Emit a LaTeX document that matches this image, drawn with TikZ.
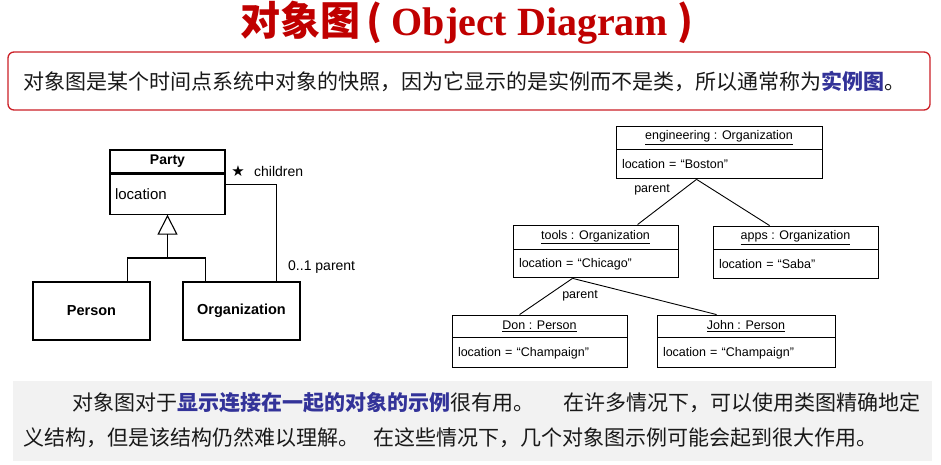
\documentclass[tikz,border=0pt]{standalone}
\usepackage{fontspec}
\usetikzlibrary{calc,arrows.meta}
\setmainfont{Liberation Sans}
\newfontfamily\cjk{Noto Sans CJK SC}
\newfontfamily\titleserif{Liberation Serif}
\newfontfamily\symfont{DejaVu Sans}
\definecolor{titlered}{RGB}{192,0,0}
\definecolor{framered}{RGB}{204,32,39}
\definecolor{keyblue}{RGB}{51,51,153}
\definecolor{panelgray}{RGB}{242,242,242}
\definecolor{inkgray}{RGB}{25,25,25}
\newcommand{\kw}[1]{{\bfseries\color{keyblue}#1}}
\begin{document}
\begin{tikzpicture}[x=1pt,y=-1pt,
  umlbox/.style={draw, line width=1.1pt, inner sep=0pt},
  umlline/.style={line width=1.1pt},
  objtitle/.style={draw, line width=0.9pt, inner sep=0pt, font=\fontsize{12.5}{14}\selectfont},
  objattr/.style={draw, line width=0.9pt, inner ysep=0pt, inner xsep=6pt, anchor=north, align=left,
                  font=\fontsize{12.5}{14}\selectfont},
  objline/.style={line width=0.9pt},
  cjktext/.style={font=\cjk\fontsize{21}{24}\selectfont, text=inkgray, inner sep=0pt, anchor=west},
  umllabel/.style={font=\fontsize{14}{16}\selectfont, inner sep=0pt, anchor=west},
  rolelabel/.style={font=\fontsize{12.5}{14}\selectfont, inner sep=0pt}
]
\useasboundingbox (0,0) rectangle (941,464);
\fill[white] (0,0) rectangle (941,464);

% heading
\node[text=titlered, inner sep=0pt] (title) at (467,23)
  {{\cjk\bfseries\fontsize{40}{44}\selectfont 对象图\hspace{6pt}(}\hspace{9pt}{\titleserif\bfseries\fontsize{40}{44}\selectfont Object Diagram}\hspace{9pt}{\cjk\bfseries\fontsize{40}{44}\selectfont )}};

% definition frame
\draw[framered, line width=1.3pt, rounded corners=6pt] (8,52) rectangle (930,110);
\node[cjktext] (def) at (23,81)
  {对象图是某个时间点系统中对象的快照，因为它显示的是实例而不是类，所以通常称为\kw{实例图}。};

% class diagram
\node[umlbox, minimum width=115pt, minimum height=23pt, font=\bfseries\fontsize{14}{16}\selectfont]
  (partyT) at (167.5,161.5) {Party};
\node[umlbox, minimum width=115pt, minimum height=40pt, anchor=north, text width=105pt, inner xsep=5pt,
  align=left, font=\fontsize{15}{17}\selectfont] (partyA) at (partyT.south) {location};
\node[umlbox, minimum width=117pt, minimum height=58pt, font=\bfseries\fontsize{14.5}{16}\selectfont]
  (person) at (91.5,311) {Person};
\node[umlbox, minimum width=117pt, minimum height=58pt, font=\bfseries\fontsize{14.5}{16}\selectfont]
  (org) at (241.5,311) {Organization};

\coordinate (gen) at (167.5,258);
\coordinate (pt) at ($(person.north west)+(95,0)$);
\coordinate (ot) at ($(org.north west)+(23,0)$);
\draw[umlline, -{Triangle[open, length=20pt, width=20pt, line width=1.1pt]}] (gen) -- (partyA.south);
\draw[umlline] (pt) |- (gen) -| (ot);

\coordinate (assocA) at ($(partyA.north east)+(0,11)$);
\coordinate (assocB) at ($(org.north west)+(94,0)$);
\draw[umlline] (assocA) -| (assocB);
\node[font=\symfont\fontsize{15}{16}\selectfont, inner sep=0pt] (star) at (238,171) {★};
\node[umllabel] (children) at (254,171) {children};
\node[umllabel] (parentmult) at (288,267) {0..1 parent};

% object diagram
\node[objtitle, minimum width=206pt, minimum height=23pt] (engT) at (719,137.5) {\underline{engineering : Organization}};
\node[objattr, text width=194pt, minimum height=29pt] (engA) at (engT.south) {location = “Boston”};

\node[objtitle, minimum width=165pt, minimum height=24pt] (toolsT) at (595.5,237) {\underline{tools : Organization}};
\node[objattr, text width=153pt, minimum height=28pt] (toolsA) at (toolsT.south) {location = “Chicago”};

\node[objtitle, minimum width=165pt, minimum height=23pt] (appsT) at (795.5,237.5) {\underline{apps : Organization}};
\node[objattr, text width=153pt, minimum height=29pt] (appsA) at (appsT.south) {location = “Saba”};

\node[objtitle, minimum width=175pt, minimum height=22pt] (donT) at (539.5,326) {\underline{Don : Person}};
\node[objattr, text width=163pt, minimum height=30pt] (donA) at (donT.south) {location = “Champaign”};

\node[objtitle, minimum width=178pt, minimum height=22pt] (johnT) at (746,326) {\underline{John : Person}};
\node[objattr, text width=166pt, minimum height=30pt] (johnA) at (johnT.south) {location = “Champaign”};

\coordinate (engB) at ($(engA.south west)+(81,0)$);
\coordinate (toolsTop) at ($(toolsT.north west)+(125,0)$);
\coordinate (appsTop) at ($(appsT.north west)+(57,0)$);
\coordinate (toolsB) at ($(toolsA.south west)+(60,0)$);
\coordinate (donTop) at ($(donT.north west)+(68,0)$);
\coordinate (johnTop) at ($(johnT.north west)+(60,0)$);
\draw[objline] (engB) -- (toolsTop);
\draw[objline] (engB) -- (appsTop);
\draw[objline] (toolsB) -- (donTop);
\draw[objline] (toolsB) -- (johnTop);
\node[rolelabel] (role1) at (652,190) {parent};
\node[rolelabel] (role2) at (580,296) {parent};

% usage note
\fill[panelgray] (13,381) rectangle (932,461);
\node[cjktext] (note1) at (72,403)
  {对象图对于\kw{显示连接在一起的对象的示例}很有用。\hspace{1.4em}在许多情况下，可以使用类图精确地定};
\node[cjktext] (note2) at (23,438)
  {义结构，但是该结构仍然难以理解。\hspace{0.7em}在这些情况下，几个对象图示例可能会起到很大作用。};
\end{tikzpicture}
\end{document}
